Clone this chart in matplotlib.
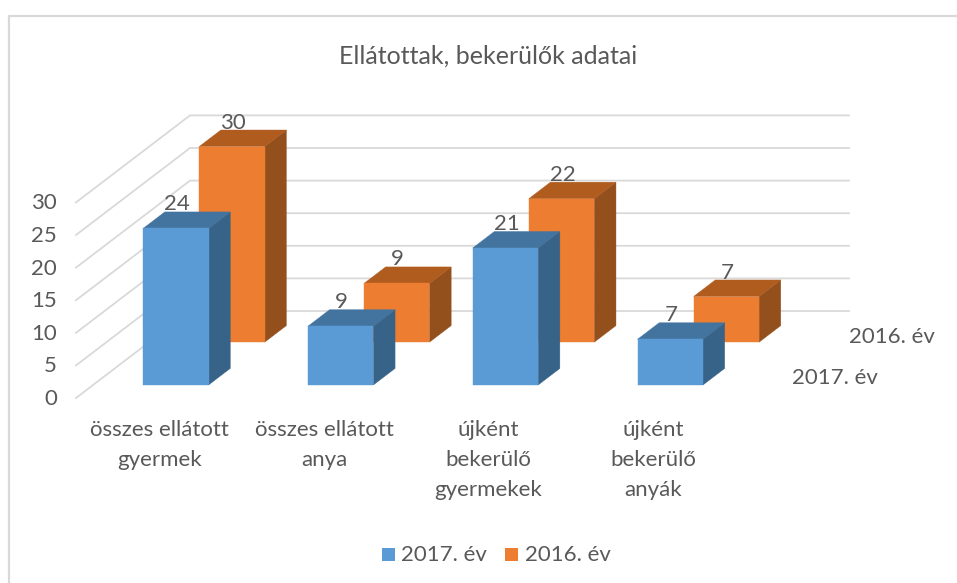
import matplotlib
matplotlib.use("Agg")
import matplotlib.pyplot as plt
from matplotlib.patches import Polygon, Rectangle

categories = ["összes ellátott\ngyermek", "összes ellátott\nanya",
              "újként\nbekerülő\ngyermekek", "újként\nbekerülő\nanyák"]
series_names = ["2017. év", "2016. év"]
values_2017 = [24, 9, 21, 7]
values_2016 = [30, 9, 22, 7]
y_ticks = [0, 5, 10, 15, 20, 25, 30]
title = "Ellátottak, bekerülők adatai"

plt.rcParams["font.family"] = ["Lato", "DejaVu Sans"]
TXT = "#595959"
GRID = "#d9d9d9"
FS = 16
DY = 1.0                    # vertical text nudge

# oblique projection of the 3-D chart space into figure pixels
X0, Y0 = 126.0, 398.0       # origin: first category, value 0, depth 0
CAT_STEP = 164.8
BAR_W = 65.5
UNIT = 6.52                 # pixels per value unit
DEPTH_X, DEPTH_Y = 114.0, 87.0
BAR_D = 0.19
DEPTH_2017, DEPTH_2016 = 0.15, 0.642
WALL_RIGHT = 849.0


def proj(x, v, d):
    """x: pixels along category axis, v: value, d: depth 0..1"""
    return (X0 + x + d * DEPTH_X, Y0 - v * UNIT - d * DEPTH_Y)


fig = plt.figure(figsize=(9.57, 5.83), dpi=100)
ax = fig.add_axes([0, 0, 1, 1])
ax.set_xlim(0, 957)
ax.set_ylim(583, 0)
ax.axis("off")

# chart frame
ax.plot([8.5, 8.5, 957], [583, 15.5, 15.5], color=GRID, lw=1.6, zorder=1)

# gridlines on side wall and back wall
for t in y_ticks:
    fx, fy = X0 - 50, Y0 - t * UNIT
    bx, by = proj(-50, t, 1)
    ax.plot([fx, bx, WALL_RIGHT], [fy, by, by], color=GRID, lw=1.3, zorder=2,
            solid_joinstyle="miter")
    ax.text(57, fy + DY, str(t), ha="right", va="center", color=TXT, fontsize=FS)


def bar(i, v, d, front, top, side, z):
    x1 = i * CAT_STEP
    x2 = x1 + BAR_W
    d2 = d + BAR_D
    pts_front = [proj(x1, 0, d), proj(x2, 0, d), proj(x2, v, d), proj(x1, v, d)]
    pts_top = [proj(x1, v, d), proj(x2, v, d), proj(x2, v, d2), proj(x1, v, d2)]
    pts_side = [proj(x2, 0, d), proj(x2, 0, d2), proj(x2, v, d2), proj(x2, v, d)]
    ax.add_patch(Polygon(pts_side, closed=True, fc=side, ec=side, lw=0.3, zorder=z))
    ax.add_patch(Polygon(pts_top, closed=True, fc=top, ec=top, lw=0.3, zorder=z))
    ax.add_patch(Polygon(pts_front, closed=True, fc=front, ec=front, lw=0.3, zorder=z))
    cx, cy = proj(x1 + BAR_W / 2, v, d)
    ax.text(cx + 1, cy - 25 + DY, str(v), ha="center", va="center", color=TXT,
            fontsize=FS, zorder=10)


for i, v in enumerate(values_2016):
    bar(i, v, DEPTH_2016, "#ED7D31", "#B15C1F", "#934F1C", 3 + i * 0.1)
for i, v in enumerate(values_2017):
    bar(i, v, DEPTH_2017, "#5B9BD5", "#4374A0", "#386389", 5 + i * 0.1)

# category labels
for i, c in enumerate(categories):
    for j, line in enumerate(c.split("\n")):
        ax.text(159.5 + i * 164.5, 429 + DY + j * 30, line,
                ha="center", va="center", color=TXT, fontsize=FS)

# series-axis labels
ax.text(849, 336 + DY, series_names[1], ha="left", va="center", color=TXT, fontsize=FS)
ax.text(792, 377 + DY, series_names[0], ha="left", va="center", color=TXT, fontsize=FS)

# title
ax.text(488.5, 55 + DY, title, ha="center", va="center", color=TXT, fontsize=18)

# legend
for px, tx, name, col in [(382, 401, series_names[0], "#5B9BD5"),
                          (505, 525, series_names[1], "#ED7D31")]:
    ax.add_patch(Rectangle((px, 547.5), 13, 13, fc=col, ec="none"))
    ax.text(tx, 554 + DY, name, ha="left", va="center", color=TXT, fontsize=FS)

fig.savefig("out.png", dpi=100, facecolor="white")
